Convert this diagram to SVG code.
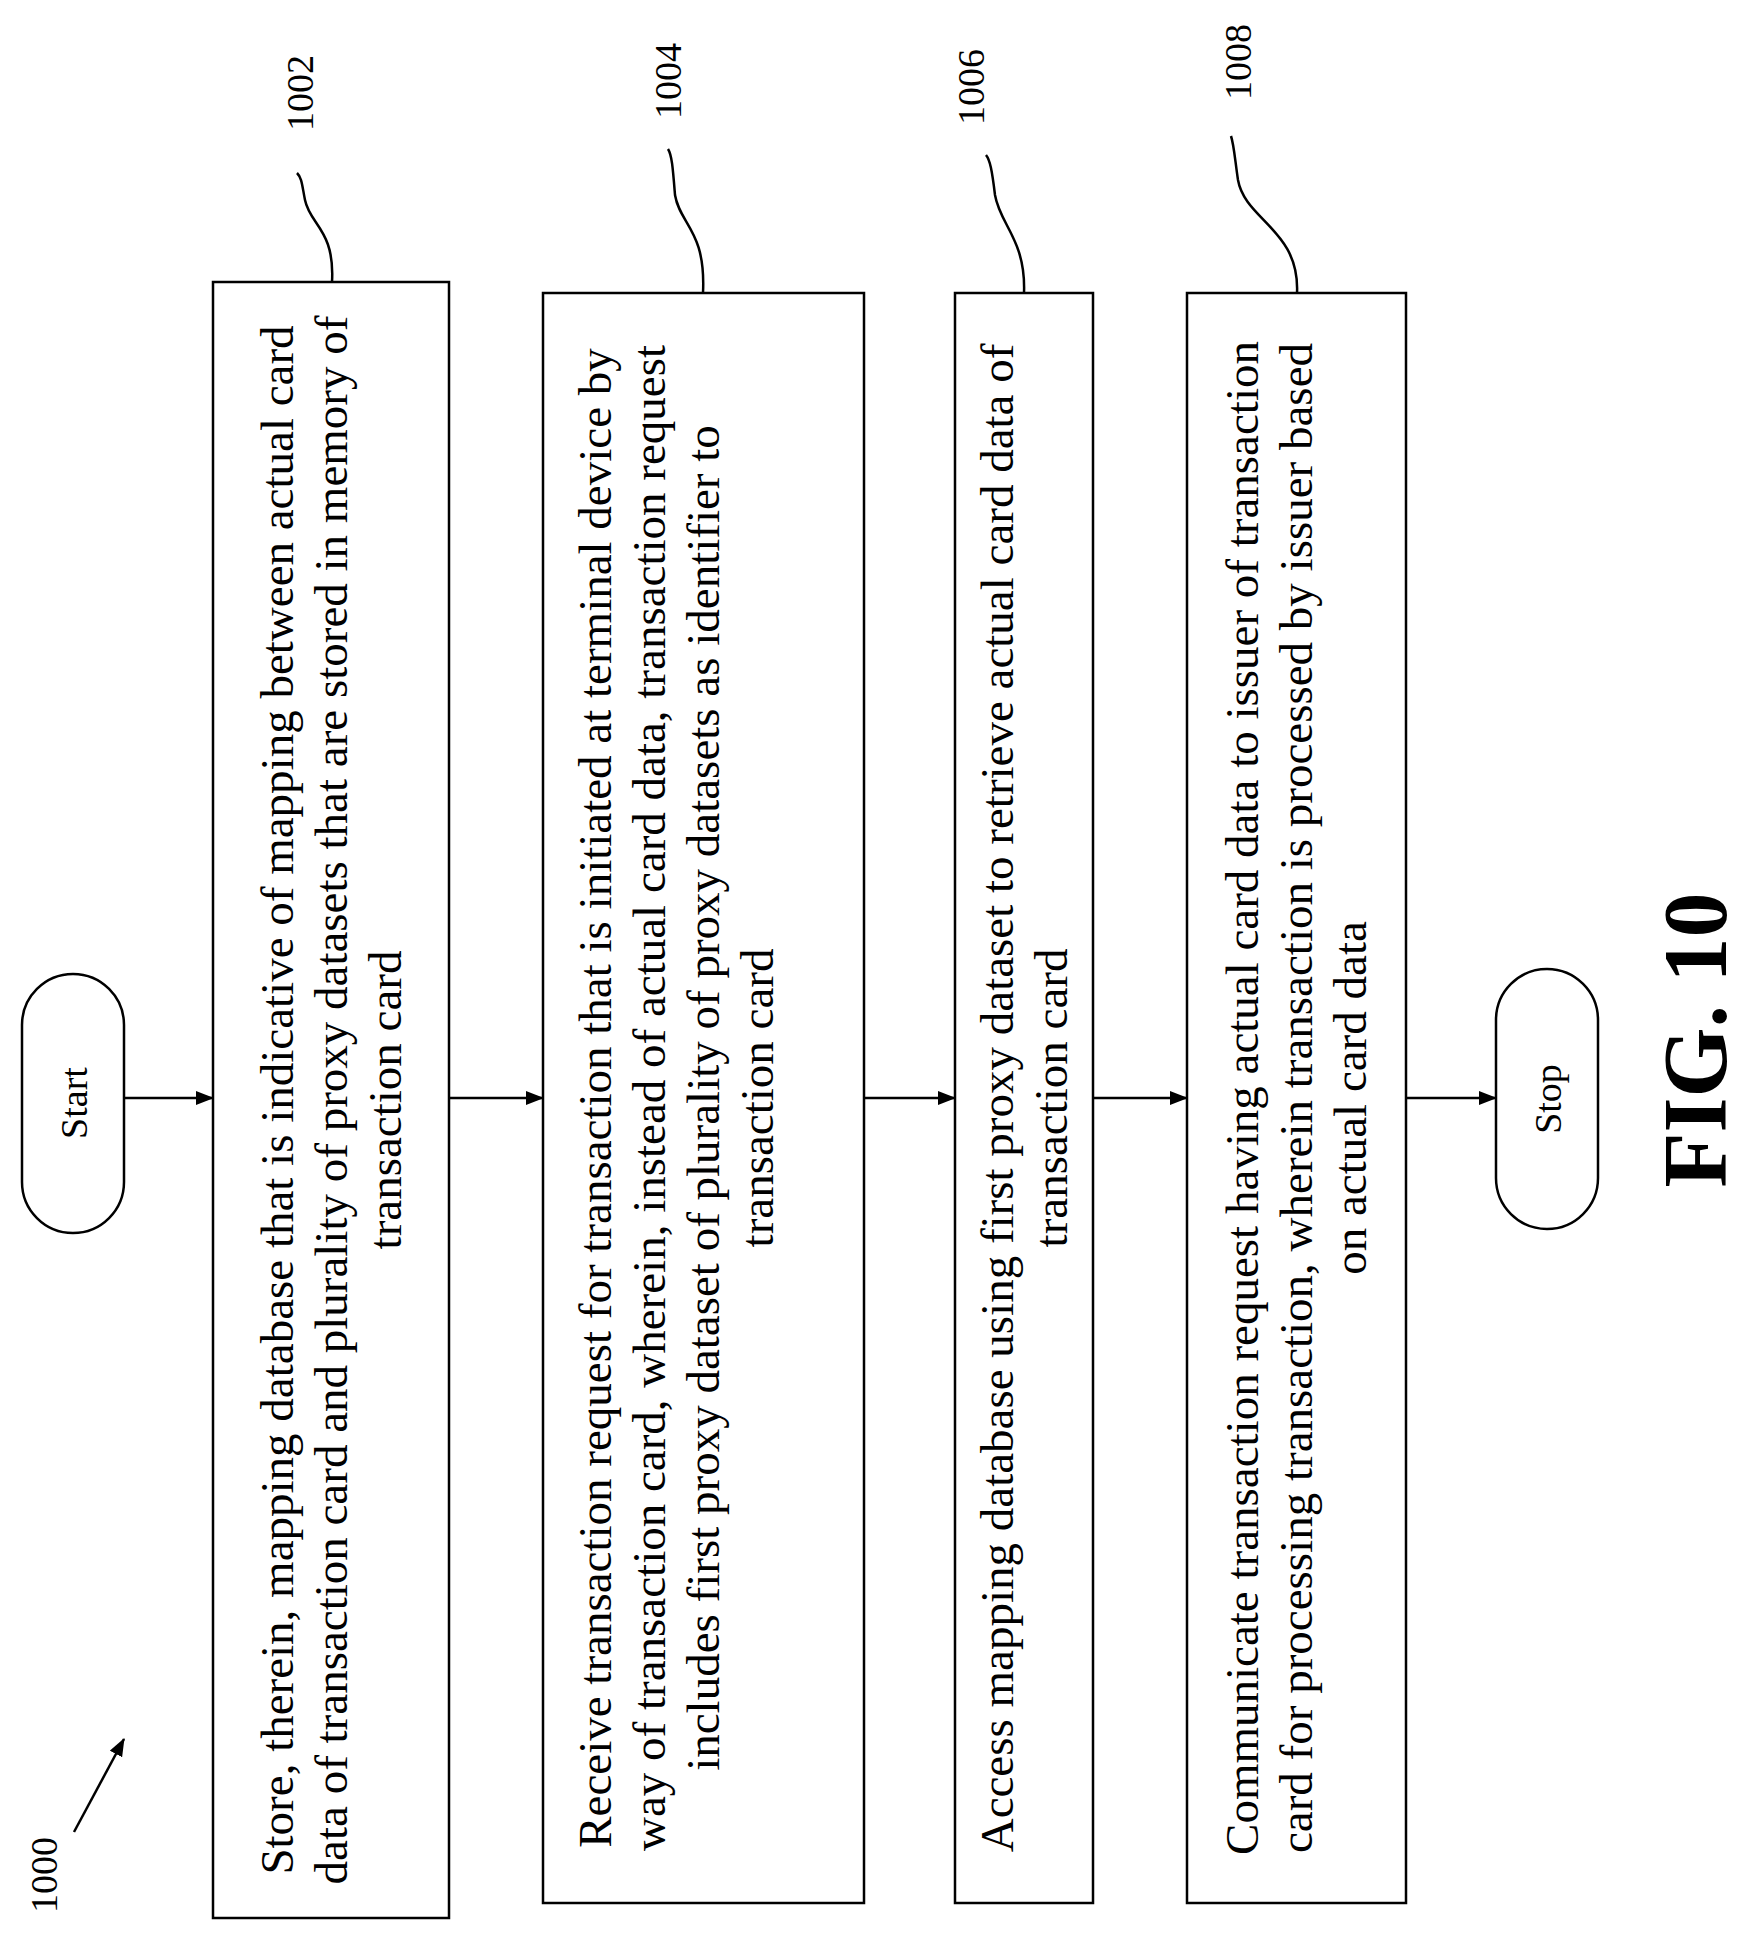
<svg xmlns="http://www.w3.org/2000/svg" width="1750" height="1943" viewBox="0 0 1750 1943">
<defs><marker id="ah" markerWidth="18" markerHeight="14" refX="17" refY="7" orient="auto" markerUnits="userSpaceOnUse"><path d="M0,0 L18,7 L0,14 Z" fill="#000"/></marker>
<style>
text{font-family:"Liberation Serif","Times New Roman",serif;fill:#000}
.b{fill:#fff;stroke:#000;stroke-width:2.5}
.t{font-size:47px;text-anchor:middle}
.l{fill:none;stroke:#000;stroke-width:2.5}
.n{font-size:38px;text-anchor:middle}
</style></defs>
<rect width="1750" height="1943" fill="#fff"/>
<g id="start"><rect class="b" x="22" y="974" width="102" height="259" rx="51"/><text class="n" transform="translate(87,1103) rotate(-90)">Start</text></g>
<g id="n1002"><rect class="b" x="213" y="282" width="236" height="1636"/>
<text class="t" transform="translate(293,1100) rotate(-90)">Store, therein, mapping database that is indicative of  mapping between actual card</text>
<text class="t" transform="translate(347,1100) rotate(-90)">data of transaction card and plurality of proxy datasets that are stored in memory of</text>
<text class="t" transform="translate(401,1100) rotate(-90)">transaction card</text></g>
<g id="n1004"><rect class="b" x="543" y="293" width="321" height="1610"/>
<text class="t" transform="translate(611,1098) rotate(-90)">Receive transaction request for transaction that is initiated at terminal device by</text>
<text class="t" transform="translate(665,1098) rotate(-90)">way of transaction card, wherein, instead of actual card data, transaction request</text>
<text class="t" transform="translate(719,1098) rotate(-90)">includes first proxy dataset of plurality of proxy datasets as identifier to</text>
<text class="t" transform="translate(773,1098) rotate(-90)">transaction card</text></g>
<g id="n1006"><rect class="b" x="955" y="293" width="138" height="1610"/>
<text class="t" transform="translate(1013,1098) rotate(-90)">Access mapping database using first proxy dataset to retrieve actual card data of</text>
<text class="t" transform="translate(1067,1098) rotate(-90)">transaction card</text></g>
<g id="n1008"><rect class="b" x="1187" y="293" width="219" height="1610"/>
<text class="t" transform="translate(1258,1098) rotate(-90)">Communicate transaction request having actual card data to issuer of transaction</text>
<text class="t" transform="translate(1312,1098) rotate(-90)">card for processing transaction, wherein transaction is processed by issuer based</text>
<text class="t" transform="translate(1366,1098) rotate(-90)">on actual card data</text></g>
<g id="stop"><rect class="b" x="1496" y="969" width="102" height="260" rx="51"/><text class="n" transform="translate(1561,1099) rotate(-90)">Stop</text></g>
<g id="connectors">
<line class="l" x1="124" y1="1098" x2="213" y2="1098" marker-end="url(#ah)"/>
<line class="l" x1="449" y1="1098" x2="543" y2="1098" marker-end="url(#ah)"/>
<line class="l" x1="864" y1="1098" x2="955" y2="1098" marker-end="url(#ah)"/>
<line class="l" x1="1093" y1="1098" x2="1187" y2="1098" marker-end="url(#ah)"/>
<line class="l" x1="1406" y1="1098" x2="1496" y2="1098" marker-end="url(#ah)"/>
<path class="l" d="M332,282 C335,230 310,225 305,200 C302,185 302,178 297,173"/>
<path class="l" d="M703,293 C706,230 680,225 675,195 C673,170 672,155 668,149"/>
<path class="l" d="M1024,293 C1026,240 1000,225 995,195 C992,170 990,160 986,155"/>
<path class="l" d="M1297,293 C1300,230 1245,220 1238,180 C1235,160 1234,145 1231,136"/>
<line class="l" x1="74" y1="1832" x2="124" y2="1739" marker-end="url(#ah)"/>
</g>
<g id="labels">
<text class="n" transform="translate(313,93) rotate(-90)">1002</text>
<text class="n" transform="translate(681,81) rotate(-90)">1004</text>
<text class="n" transform="translate(984,87) rotate(-90)">1006</text>
<text class="n" transform="translate(1251,62) rotate(-90)">1008</text>
<text class="n" transform="translate(57,1875) rotate(-90)">1000</text>
<text transform="translate(1726,1040) rotate(-90)" font-size="90" font-weight="bold" text-anchor="middle">FIG. 10</text>
</g>
</svg>
